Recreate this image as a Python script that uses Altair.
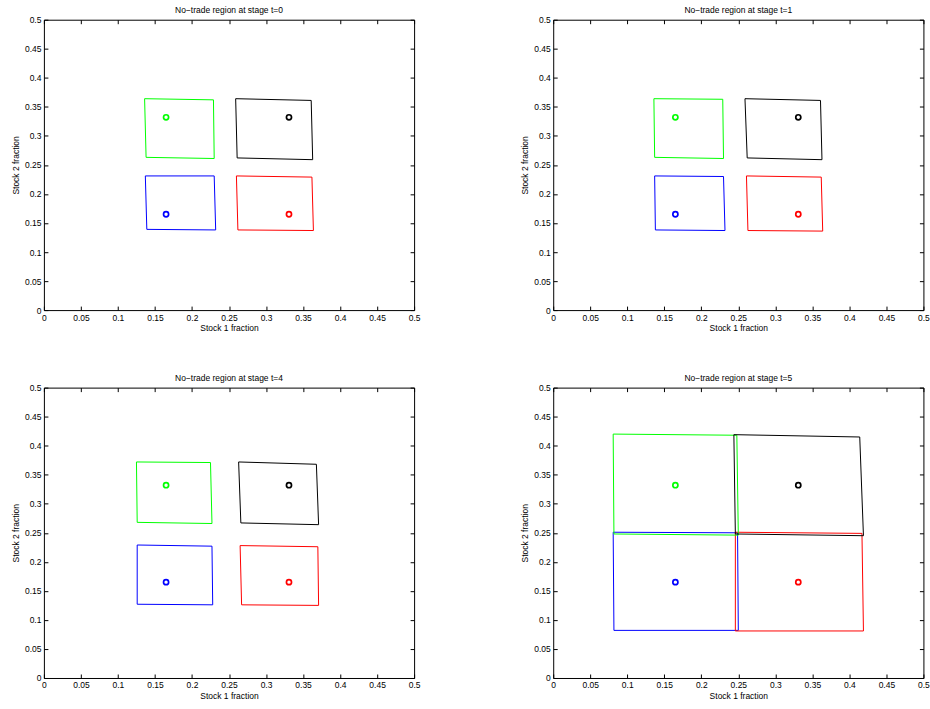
import altair as alt
import pandas as pd

FONT = "Liberation Sans"

regions = ["blue", "red", "green", "black"]
region_colors = ["#0000ff", "#ff0000", "#00ff00", "#000000"]

# Centres (circle markers) of each region
center_x = [0.165, 0.331, 0.165, 0.331]
center_y = [0.165, 0.165, 0.332, 0.332]

tick_values = [0, 0.05, 0.1, 0.15, 0.2, 0.25, 0.3, 0.35, 0.4, 0.45, 0.5]

stage_labels = ["0", "1", "4", "5"]

# Corner order: top-left, top-right, bottom-right, bottom-left
t0_x = {"blue": [0.137, 0.230, 0.232, 0.139], "red": [0.260, 0.362, 0.364, 0.262],
        "green": [0.136, 0.229, 0.230, 0.138], "black": [0.259, 0.361, 0.363, 0.261]}
t0_y = {"blue": [0.231, 0.231, 0.138, 0.139], "red": [0.231, 0.229, 0.137, 0.138],
        "green": [0.364, 0.362, 0.261, 0.263], "black": [0.364, 0.361, 0.259, 0.262]}

t1_x = {"blue": [0.137, 0.230, 0.232, 0.138], "red": [0.261, 0.362, 0.364, 0.263],
        "green": [0.136, 0.229, 0.230, 0.137], "black": [0.259, 0.361, 0.363, 0.262]}
t1_y = {"blue": [0.231, 0.230, 0.137, 0.138], "red": [0.231, 0.229, 0.136, 0.137],
        "green": [0.364, 0.363, 0.261, 0.263], "black": [0.364, 0.361, 0.259, 0.262]}

t4_x = {"blue": [0.126, 0.227, 0.228, 0.126], "red": [0.265, 0.370, 0.371, 0.267],
        "green": [0.125, 0.225, 0.227, 0.126], "black": [0.263, 0.368, 0.371, 0.266]}
t4_y = {"blue": [0.229, 0.227, 0.126, 0.127], "red": [0.228, 0.226, 0.125, 0.126],
        "green": [0.372, 0.371, 0.266, 0.268], "black": [0.372, 0.368, 0.264, 0.267]}

t5_x = {"blue": [0.081, 0.249, 0.250, 0.082], "red": [0.246, 0.417, 0.419, 0.246],
        "green": [0.081, 0.248, 0.250, 0.082], "black": [0.244, 0.414, 0.419, 0.246]}
t5_y = {"blue": [0.251, 0.250, 0.082, 0.082], "red": [0.251, 0.249, 0.081, 0.081],
        "green": [0.420, 0.418, 0.246, 0.248], "black": [0.419, 0.415, 0.245, 0.248]}

stage_x = [t0_x, t1_x, t4_x, t5_x]
stage_y = [t0_y, t1_y, t4_y, t5_y]

TICK = 4
FS = 8.5


def make_panel(label, xs, ys):
    rows = []
    for r in regions:
        for i in range(5):
            k = i % 4
            rows.append({"region": r, "k": i, "x": xs[r][k], "y": ys[r][k]})
    df = pd.DataFrame(rows)
    cdf = pd.DataFrame({"region": regions, "x": center_x, "y": center_y})

    xscale = alt.Scale(domain=[0, 0.5], nice=False, zero=False)
    yscale = alt.Scale(domain=[0, 0.5], nice=False, zero=False)
    color = alt.Color("region:N", scale=alt.Scale(domain=regions, range=region_colors), legend=None)

    common = dict(values=tick_values, offset=-TICK, tickSize=TICK, domain=False, grid=False,
                  tickColor="black", tickWidth=1, labelFlush=False, labelOverlap=False,
                  labelFont=FONT, labelFontSize=FS, labelColor="black",
                  titleFont=FONT, titleFontSize=FS, titleColor="black", titleFontWeight="normal")

    ax_bottom = alt.Axis(orient="bottom", format=".2~f", labelPadding=3,
                         title="Stock 1 fraction", titlePadding=2, **common)
    ax_left = alt.Axis(orient="left", format=".2~f", labelPadding=3,
                       title="Stock 2 fraction", titlePadding=4, **common)
    ax_top = alt.Axis(orient="top", labels=False, title=None, **common)
    ax_right = alt.Axis(orient="right", labels=False, title=None, **common)

    lines = alt.Chart(df).mark_line(strokeWidth=1, strokeJoin="miter").encode(
        x=alt.X("x:Q", scale=xscale, axis=ax_bottom),
        y=alt.Y("y:Q", scale=yscale, axis=ax_left),
        color=color,
        detail="region:N",
        order=alt.Order("k:Q"),
    )
    pts = alt.Chart(cdf).mark_point(shape="circle", filled=False, size=26, strokeWidth=1.7, opacity=1).encode(
        x=alt.X("x:Q", scale=xscale, axis=ax_top),
        y=alt.Y("y:Q", scale=yscale, axis=ax_right),
        color=color,
    )
    return alt.layer(lines, pts).resolve_axis(x="independent", y="independent").properties(
        width=371, height=291,
        title=alt.TitleParams(text=f"No\u2212trade region at stage t={label}", font=FONT, fontSize=FS,
                              fontWeight="normal", color="black", anchor="middle", offset=1),
    )


panels = [make_panel(l, xs, ys) for l, xs, ys in zip(stage_labels, stage_x, stage_y)]

chart = alt.concat(*panels, columns=2, spacing=alt.RowColnumber(row=77.7, column=139.4), bounds="flush").properties(
    padding={"left": 10, "top": 5, "right": 0, "bottom": 0},
    background="white",
).configure_view(stroke="black", strokeWidth=1)

chart.save("out.html", embed_options={"renderer": "svg", "actions": False})
